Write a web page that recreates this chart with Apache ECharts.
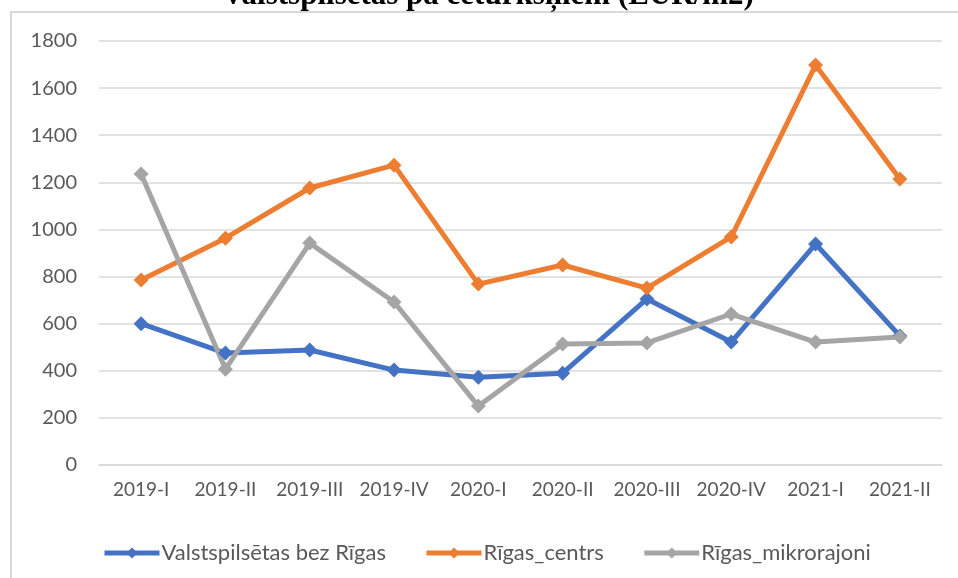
<!DOCTYPE html>
<html>
<head>
<meta charset="utf-8">
<script src="https://cdn.jsdelivr.net/npm/echarts@6/dist/echarts.min.js"></script>
<style>html,body{margin:0;padding:0;background:#fff;}#c{width:958px;height:578px;}</style>
</head>
<body>
<div id="c"></div>
<script>
const categories = ['2019-I','2019-II','2019-III','2019-IV','2020-I','2020-II','2020-III','2020-IV','2021-I','2021-II'];
const valstspilsetas = [600, 475, 488, 403, 373, 390, 705, 522, 938, 548];
const rigasCentrs = [785, 963, 1176, 1273, 768, 849, 751, 968, 1698, 1214];
const rigasMikrorajoni = [1235, 407, 942, 692, 250, 514, 518, 641, 522, 543];
const seriesNames = ['Valstspilsētas bez Rīgas', 'Rīgas_centrs', 'Rīgas_mikrorajoni'];
const titleText = 'Valstspilsētas pa ceturkšņiem (EUR/m2)';

const chart = echarts.init(document.getElementById('c'), null, {renderer:'canvas'});
const font = 'Lato';
const colors = ['#4472C4', '#ED7D31', '#A5A5A5'];
function mk(name, data, color){
  return {
    name, type:'line', data,
    symbol:'diamond', symbolSize:15,
    lineStyle:{width:5, color},
    itemStyle:{color},
    animation:false
  };
}
chart.setOption({
  animation:false,
  color: colors,
  graphic:[
    {type:'rect', shape:{x:11, y:12, width:1000, height:1000}, style:{fill:'none', stroke:'#d9d9d9', lineWidth:2}, silent:true},
    {type:'text', x:488, y:-4, style:{text:titleText, font:'bold 31px "Liberation Serif"', fill:'#000', textAlign:'center', textVerticalAlign:'middle'}, silent:true}
  ],
  grid:{left:99, right:16, top:41, bottom:113, containLabel:false},
  legend:{
    left:97, top:537,
    itemWidth:55, itemHeight:14, itemGap:38,
    lineStyle:{width:5},
    textStyle:{fontFamily:font, fontSize:22, color:'#595959', padding:[0,0,0,-3]},
    data: seriesNames
  },
  xAxis:{
    type:'category', data:categories, boundaryGap:true,
    axisLine:{lineStyle:{color:'#d9d9d9', width:1.5}},
    axisTick:{show:false},
    axisLabel:{fontFamily:font, fontSize:19, color:'#595959', margin:15, interval:0}
  },
  yAxis:{
    type:'value', min:0, max:1800, interval:200,
    axisLine:{show:false}, axisTick:{show:false},
    splitLine:{lineStyle:{color:'#d9d9d9', width:1.5}},
    axisLabel:{fontFamily:font, fontSize:20, color:'#595959', margin:22, formatter:(v)=>String(v)}
  },
  series:[
    mk(seriesNames[0], valstspilsetas, colors[0]),
    mk(seriesNames[1], rigasCentrs, colors[1]),
    mk(seriesNames[2], rigasMikrorajoni, colors[2])
  ]
});
</script>
</body>
</html>
